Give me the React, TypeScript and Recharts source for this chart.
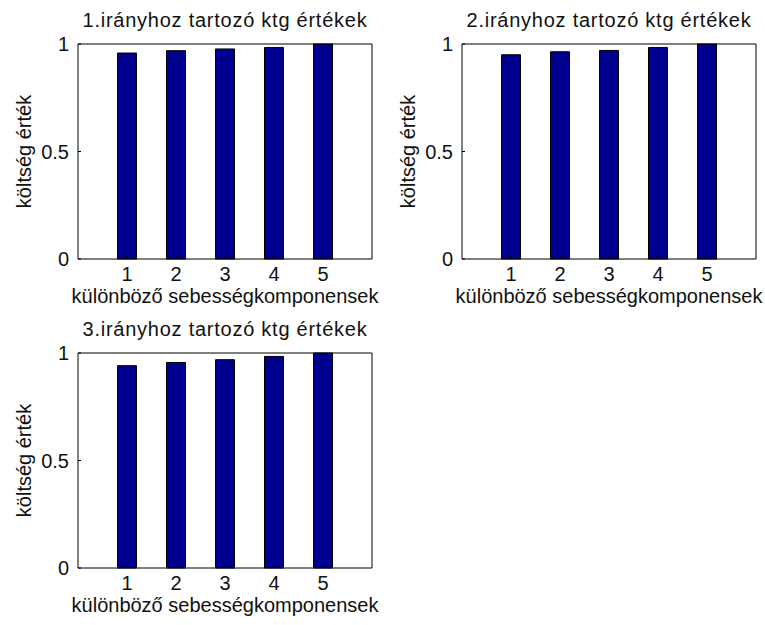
import React from 'react';
import { BarChart, Bar, XAxis, YAxis } from 'recharts';

const categories = ['1', '2', '3', '4', '5'];
const dir1Values = [0.958, 0.969, 0.977, 0.984, 1.0];
const dir2Values = [0.950, 0.964, 0.970, 0.984, 1.0];
const dir3Values = [0.941, 0.956, 0.969, 0.984, 1.0];
const yTicks = [0, 0.5, 1];
const titles = [
  '1.irányhoz tartozó ktg értékek',
  '2.irányhoz tartozó ktg értékek',
  '3.irányhoz tartozó ktg értékek',
];
const xLabel = 'különböző sebességkomponensek';
const yLabel = 'költség érték';

const FONT = '"Liberation Sans", Arial, Helvetica, sans-serif';
const W = 380;
const H = 310;
const BOX = { top: 44, left: 78, right: 8, bottom: 51 };
const XAXIS_H = 30;
const YAXIS_W = 60;
const TOP_H = 4;
const RIGHT_W = 4;
const M = {
  top: BOX.top - TOP_H,
  left: BOX.left - YAXIS_W,
  right: BOX.right - RIGHT_W,
  bottom: BOX.bottom - XAXIS_H,
};
const BOX_W = W - BOX.left - BOX.right;
const BOX_H = H - BOX.top - BOX.bottom;
const PAD = BOX_W / 12;

const tickStyle = { fontSize: 20, fill: '#111', fontFamily: FONT };

function Panel({ left, top, title, values }: { left: number; top: number; title: string; values: number[] }) {
  const data = categories.map((c, i) => ({ cat: c, v: values[i] }));
  const cx = BOX.left + BOX_W / 2;
  const cy = BOX.top + BOX_H / 2;
  return (
    <div style={{ position: 'absolute', left, top, width: W, height: H }}>
      <BarChart width={W} height={H} data={data} margin={M}>
        <XAxis
          dataKey="cat"
          xAxisId="b"
          orientation="bottom"
          height={XAXIS_H}
          padding={{ left: PAD, right: PAD }}
          tickSize={-3}
          tickMargin={11}
          tick={tickStyle}
          axisLine={{ stroke: '#000', strokeWidth: 1 }}
          tickLine={{ stroke: '#000' }}
        />
        <XAxis
          dataKey="cat"
          xAxisId="t"
          orientation="top"
          height={TOP_H}
          padding={{ left: PAD, right: PAD }}
          tickSize={-3}
          tick={false}
          axisLine={{ stroke: '#000', strokeWidth: 1 }}
          tickLine={{ stroke: '#000' }}
        />
        <YAxis
          yAxisId="l"
          orientation="left"
          width={YAXIS_W}
          domain={[0, 1]}
          ticks={yTicks}
          type="number"
          tickSize={-3}
          tickMargin={12}
          tick={tickStyle}
          axisLine={{ stroke: '#000', strokeWidth: 1 }}
          tickLine={{ stroke: '#000' }}
        />
        <YAxis
          yAxisId="r"
          orientation="right"
          width={RIGHT_W}
          domain={[0, 1]}
          ticks={yTicks}
          type="number"
          tickSize={-3}
          tick={false}
          axisLine={{ stroke: '#000', strokeWidth: 1 }}
          tickLine={{ stroke: '#000' }}
        />
        <Bar
          dataKey="v"
          xAxisId="b"
          yAxisId="l"
          barSize={19}
          fill="#00008F"
          stroke="#000"
          strokeWidth={1}
          isAnimationActive={false}
        />
      </BarChart>
      <svg
        width={W}
        height={H}
        style={{ position: 'absolute', left: 0, top: 0, pointerEvents: 'none' }}
      >
        <text x={cx} y={BOX.top - 17} textAnchor="middle" fontSize={20} letterSpacing={0.75} fill="#111" fontFamily={FONT}>
          {title}
        </text>
        <text x={cx} y={BOX.top + BOX_H + 44} textAnchor="middle" fontSize={20} fill="#111" fontFamily={FONT}>
          {xLabel}
        </text>
        <text
          x={0}
          y={0}
          transform={`translate(31, ${cy}) rotate(-90)`}
          textAnchor="middle"
          fontSize={20}
          fill="#111"
          fontFamily={FONT}
        >
          {yLabel}
        </text>
      </svg>
    </div>
  );
}

export default function App() {
  return (
    <div style={{ position: 'absolute', left: 0, top: 0, width: 765, height: 625, background: '#fff', overflow: 'hidden' }}>
      <Panel left={0} top={0} title={titles[0]} values={dir1Values} />
      <Panel left={384} top={0} title={titles[1]} values={dir2Values} />
      <Panel left={0} top={309} title={titles[2]} values={dir3Values} />
    </div>
  );
}
